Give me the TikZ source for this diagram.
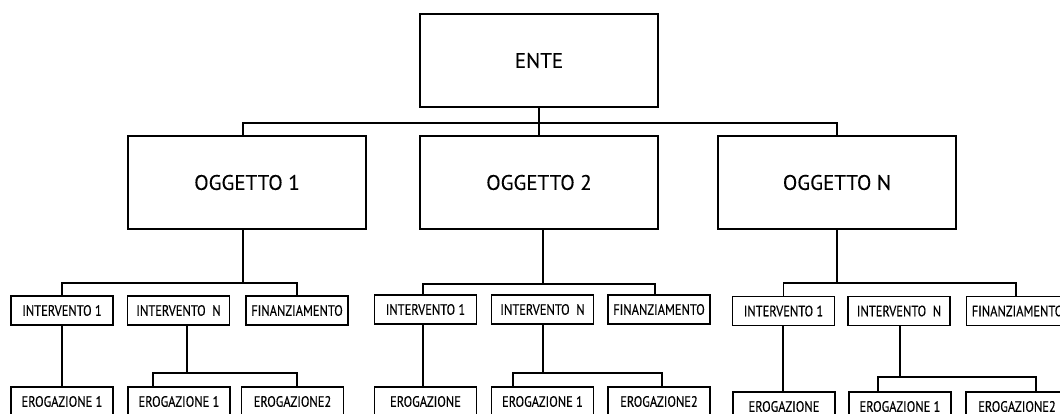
\documentclass[tikz,border=0pt]{standalone}
\usepackage{fontspec}
\setmainfont{PT Sans}
\newfontfamily\bigfnt[FakeBold=0.2]{PT Sans}
\newfontfamily\smallfnt[FakeStretch=0.83,FakeBold=0.3]{PT Sans}
\begin{document}
\begin{tikzpicture}[x=1pt,y=-1pt,
  bigbox/.style={draw, line width=1.8pt, minimum width=238pt, minimum height=93pt, inner sep=0pt, font=\bigfnt\fontsize{21}{25}\selectfont},
  smallbox/.style={draw, line width=1.8pt, minimum width=102pt, minimum height=29pt, inner sep=0pt, font=\smallfnt\fontsize{15}{17}\selectfont},
  conn/.style={line width=1.8pt}]
\clip (0,0) rectangle (1060,414);
\useasboundingbox (0,0) rectangle (1060,414);
% top level
\node[bigbox] (ente) at (539,60.5) {ENTE};
\node[bigbox] (o1) at (247,182.5) {OGGETTO 1};
\node[bigbox] (o2) at (539,182.5) {OGGETTO 2};
\node[bigbox] (on) at (837,182.5) {OGGETTO N};
\coordinate (busT) at (0,123);
\draw[conn] (ente.south) -- (o2.north);
\draw[conn] ([xshift=-4pt]o1.north) |- (busT -| on.north) -- (on.north);
% group 1
\node[smallbox] (i1a) at (62,310.5) {INTERVENTO 1};
\node[smallbox] (ina) at (178.5,310.5) {INTERVENTO\ \ N};
\node[smallbox] (fina) at (297,310.5) {FINANZIAMENTO};
\node[smallbox] (ea) at (62,401.5) {EROGAZIONE 1};
\node[smallbox] (e1a) at (179,401.5) {EROGAZIONE 1};
\node[smallbox] (e2a) at (292.5,401.5) {EROGAZIONE2};
\coordinate (bus1) at (0,283);
\coordinate (sub1) at (0,373);
\draw[conn] ([xshift=-4pt]o1.south) -- ([xshift=-4pt]o1.south |- bus1);
\draw[conn] (i1a.north) |- (bus1 -| fina.north) -- (fina.north);
\draw[conn] (i1a.south) -- (ea.north);
\draw[conn] ([xshift=8.5pt]ina.south) -- ([xshift=8.5pt]ina.south |- sub1);
\draw[conn] ([xshift=-26pt]e1a.north) |- ([xshift=4.5pt]e2a.north |- sub1) -- ([xshift=4.5pt]e2a.north);
% group 2
\node[smallbox] (i1b) at (425.5,309.5) {INTERVENTO 1};
\node[smallbox] (inb) at (542.5,309.5) {INTERVENTO\ \ N};
\node[smallbox] (finb) at (659,309.5) {FINANZIAMENTO};
\node[smallbox] (eb) at (425.5,401.5) {EROGAZIONE};
\node[smallbox] (e1b) at (542.5,401.5) {EROGAZIONE 1};
\node[smallbox] (e2b) at (659,401.5) {EROGAZIONE2};
\coordinate (bus2) at (0,284);
\coordinate (sub2) at (0,373);
\draw[conn] ([xshift=4pt]o2.south) -- ([xshift=4pt]o2.south |- bus2);
\draw[conn] ([xshift=-2.5pt]i1b.north) |- ([xshift=-4pt]finb.north |- bus2) -- ([xshift=-4pt]finb.north);
\draw[conn] ([xshift=-2.5pt]i1b.south) -- ([xshift=-2.5pt]eb.north);
\draw[conn] ([xshift=0.5pt]inb.south) -- ([xshift=0.5pt]inb.south |- sub2);
\draw[conn] ([xshift=-29.5pt]e1b.north) |- ([xshift=3pt]e2b.north |- sub2) -- ([xshift=3pt]e2b.north);
% group 3
\node[smallbox] (i1c) at (783.5,311) {INTERVENTO 1};
\node[smallbox] (inc) at (899,311) {INTERVENTO\ \ N};
\node[smallbox] (finc) at (1017.5,311) {FINANZIAMENTO};
\node[smallbox] (ec) at (784,406.5) {EROGAZIONE};
\node[smallbox] (e1c) at (900,406.5) {EROGAZIONE 1};
\node[smallbox] (e2c) at (1017,406.5) {EROGAZIONE2};
\coordinate (bus3) at (0,283);
\coordinate (sub3) at (0,377);
\draw[conn] (on.south) -- (on.south |- bus3);
\draw[conn] (i1c.north) |- ([xshift=-1.5pt]finc.north |- bus3) -- ([xshift=-1.5pt]finc.north);
\draw[conn] ([xshift=-0.5pt]i1c.south) -- ([xshift=-0.5pt]i1c.south |- ec.north);
\draw[conn] ([xshift=1pt]inc.south) -- ([xshift=1pt]inc.south |- sub3);
\draw[conn] ([xshift=-22pt]e1c.north) |- ([xshift=19pt]e2c.north |- sub3) -- ([xshift=19pt]e2c.north);
\end{tikzpicture}
\end{document}
